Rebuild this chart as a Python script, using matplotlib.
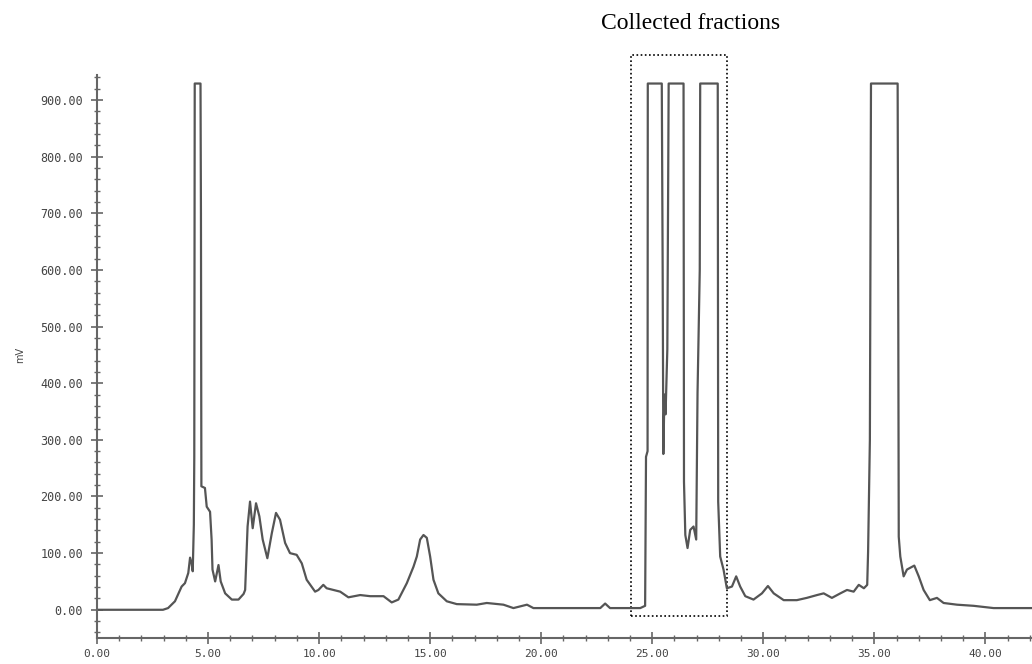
import matplotlib.pyplot as plt
from matplotlib.patches import Rectangle
from matplotlib.ticker import MultipleLocator

# chromatogram trace (min, mV)
time_min = [0.0, 2.97, 3.2, 3.51, 3.81, 3.96, 4.11, 4.19, 4.26, 4.31, 4.36, 4.38,
            4.40, 4.66, 4.68, 4.70, 4.86, 4.94, 5.09, 5.16, 5.20, 5.32, 5.40, 5.47,
            5.57, 5.77, 6.07, 6.37, 6.60, 6.67, 6.78, 6.89, 7.01, 7.16, 7.31, 7.46,
            7.67, 7.87, 8.06, 8.24, 8.47, 8.69, 8.99, 9.22, 9.44, 9.82, 9.97, 10.19,
            10.34, 10.65, 10.95, 11.32, 11.85, 12.3, 12.9, 13.27, 13.57, 13.95, 14.25,
            14.4, 14.55, 14.7, 14.85, 15.0, 15.15, 15.37, 15.75, 16.2, 17.1, 17.55,
            18.3, 18.75, 19.36, 19.65, 21.0, 22.66, 22.88, 23.1, 24.46, 24.68, 24.72,
            24.79, 24.80, 25.43, 25.47, 25.50, 25.55, 25.60, 25.68, 25.74, 26.41,
            26.43, 26.49, 26.59, 26.71, 26.86, 26.98, 27.04, 27.14, 27.16, 27.95,
            27.97, 28.06, 28.21, 28.36, 28.59, 28.78, 28.96, 29.19, 29.56, 29.94,
            30.21, 30.47, 30.92, 31.51, 31.96, 32.42, 32.72, 33.09, 33.47, 33.77,
            34.07, 34.3, 34.53, 34.68, 34.72, 34.80, 34.85, 36.05, 36.08, 36.10,
            36.17, 36.32, 36.47, 36.8, 37.0, 37.22, 37.5, 37.82, 38.12, 38.72,
            39.47, 40.37, 42.1]
signal_mv = [0, 0, 3, 15, 41, 47, 65, 92, 82, 68, 150, 270,
             929, 929, 700, 218, 215, 182, 173, 124, 71, 50, 65, 79,
             50, 29, 18, 18, 28, 35, 147, 191, 144, 188, 165, 124,
             91, 135, 171, 159, 118, 100, 97, 82, 53, 32, 35, 44,
             38, 35, 32, 22, 26, 24, 24, 13, 18, 47, 76,
             94, 124, 132, 127, 94, 53, 29, 15, 10, 9, 12,
             9, 3, 9, 3, 3, 3, 11, 3, 3, 7, 270,
             280, 929, 929, 600, 275, 380, 345, 460, 929, 929,
             226, 132, 109, 141, 147, 124, 383, 600, 929, 929,
             191, 94, 71, 38, 41, 59, 41, 24, 18, 29,
             42, 29, 17, 17, 21, 26, 29, 21, 29, 35,
             32, 44, 38, 44, 103, 300, 929, 929, 500, 129,
             94, 59, 71, 78, 59, 35, 17, 21, 12, 9,
             7, 3, 3]

fraction_window = (24.05, 28.38)

fig = plt.figure(figsize=(10.32, 6.64), dpi=100)
ax = fig.add_axes([0.094, 0.039, 0.906, 0.848])

ax.plot(time_min, signal_mv, color='#555555', lw=1.6)

ax.set_xlim(0, 42.1)
ax.set_ylim(-50, 944)

ax.xaxis.set_major_locator(MultipleLocator(5))
ax.xaxis.set_minor_locator(MultipleLocator(1))
ax.yaxis.set_major_locator(MultipleLocator(100))
ax.yaxis.set_minor_locator(MultipleLocator(20))
ax.xaxis.set_major_formatter(lambda v, p: f"{v:.2f}")
ax.yaxis.set_major_formatter(lambda v, p: f"{v:.2f}")

for s in ['top', 'right']:
    ax.spines[s].set_visible(False)
for s in ['left', 'bottom']:
    ax.spines[s].set_color('#666666')
    ax.spines[s].set_linewidth(1.5)

ax.tick_params(which='major', direction='inout', length=8, width=1.2, color='#666666',
               labelcolor='#444444')
ax.tick_params(which='minor', direction='inout', length=4, width=1.0, color='#666666')
ax.tick_params(axis='x', which='major', pad=4, labelsize=8)
ax.tick_params(axis='y', which='major', pad=6, labelsize=8.5)
for lab in ax.get_xticklabels() + ax.get_yticklabels():
    lab.set_family('DejaVu Sans Mono')

ax.set_ylabel('mV', fontsize=7, color='#444444')
ax.yaxis.set_label_coords(-0.077, 0.503)

# dotted box round the collected fractions, runs above the axes top
x0, x1 = fraction_window
ax.add_patch(Rectangle((x0, -10.6), x1 - x0, 990, fill=False, edgecolor='black',
                       lw=1.2, linestyle=(0, (1, 1.5)), clip_on=False))

fig.text(0.669, 0.965, 'Collected fractions', ha='center', va='center',
         family='Liberation Serif', fontsize=17)

fig.savefig('out.png', dpi=100)
plt.close()
